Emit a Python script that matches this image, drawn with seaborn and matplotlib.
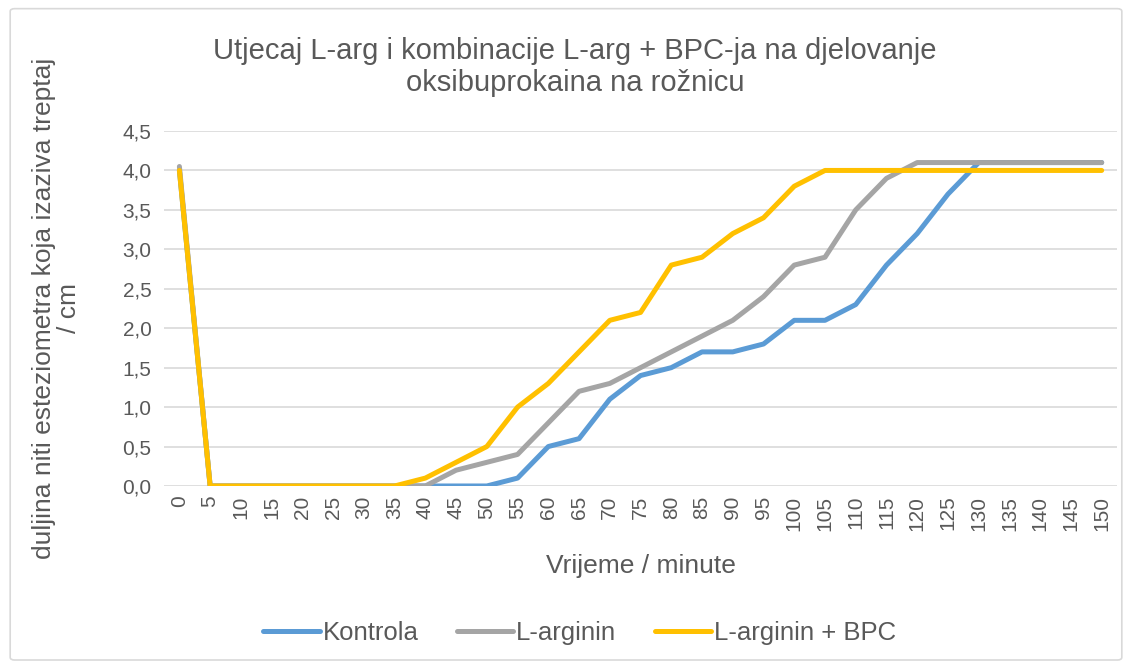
import matplotlib
matplotlib.use("Agg")
import matplotlib.pyplot as plt
import seaborn as sns
import pandas as pd
from matplotlib.patches import FancyBboxPatch
from matplotlib.ticker import FuncFormatter
from matplotlib.lines import Line2D

minutes = list(range(0, 155, 5))
kontrola = [4.0, 0, 0, 0, 0, 0, 0, 0, 0, 0, 0, 0.1, 0.5, 0.6, 1.1, 1.4, 1.5, 1.7, 1.7, 1.8,
            2.1, 2.1, 2.3, 2.8, 3.2, 3.7, 4.1, 4.1, 4.1, 4.1, 4.1]
larginin = [4.05, 0, 0, 0, 0, 0, 0, 0, 0, 0.2, 0.3, 0.4, 0.8, 1.2, 1.3, 1.5, 1.7, 1.9, 2.1, 2.4,
            2.8, 2.9, 3.5, 3.9, 4.1, 4.1, 4.1, 4.1, 4.1, 4.1, 4.1]
larg_bpc = [4.0, 0, 0, 0, 0, 0, 0, 0, 0.1, 0.3, 0.5, 1.0, 1.3, 1.7, 2.1, 2.2, 2.8, 2.9, 3.2, 3.4,
            3.8, 4.0, 4.0, 4.0, 4.0, 4.0, 4.0, 4.0, 4.0, 4.0, 4.0]
series_names = ["Kontrola", "L-arginin", "L-arginin + BPC"]
colors = ["#5B9BD5", "#A5A5A5", "#FFC000"]
y_ticks = [0, 0.5, 1.0, 1.5, 2.0, 2.5, 3.0, 3.5, 4.0, 4.5]

df = pd.DataFrame({
    "minute": minutes * 3,
    "value": kontrola + larginin + larg_bpc,
    "series": [series_names[0]] * len(minutes) + [series_names[1]] * len(minutes) + [series_names[2]] * len(minutes),
})

sns.set_theme(style="white")
plt.rcParams["font.family"] = ["Liberation Sans", "DejaVu Sans"]
txt = "#595959"

fig = plt.figure(figsize=(11.32, 6.66), dpi=100)
ax = fig.add_axes([0.1449, 0.2703, 0.8419, 0.5330])

border = FancyBboxPatch((0.009, 0.009), 0.982, 0.978, boxstyle="round,pad=0,rounding_size=0.004",
                        transform=fig.transFigure, facecolor="white", edgecolor="#D9D9D9", lw=1.2, zorder=-10)
fig.patches.append(border)

for yv in y_ticks:
    ax.axhline(yv, color="#D9D9D9", lw=1.2, zorder=0)

sns.lineplot(data=df, x="minute", y="value", hue="series", hue_order=series_names,
             palette=colors, linewidth=3.6, ax=ax, legend=False, zorder=3)

ax.set_xlim(-2.5, 152.5)
ax.set_ylim(0, 4.5)
ax.set_xticks(minutes)
ax.set_xticklabels([str(m) for m in minutes], rotation=90, color=txt, fontsize=15)
ax.set_yticks(y_ticks)
ax.yaxis.set_major_formatter(FuncFormatter(lambda v, p: f"{v:.1f}".replace(".", ",")))
ax.tick_params(axis="y", colors=txt, labelsize=15, length=0, pad=9)
ax.tick_params(axis="x", colors=txt, length=0, pad=7)
for s in ax.spines.values():
    s.set_visible(False)
ax.set_xlabel("Vrijeme / minute", color=txt, fontsize=19, labelpad=17)
ax.set_ylabel("duljina niti esteziometra koja izaziva treptaj\n/ cm", color=txt, fontsize=19,
              labelpad=30, linespacing=1.05)

fig.text(0.508, 0.899, "Utjecaj L-arg i kombinacije L-arg + BPC-ja na djelovanje\noksibuprokaina na rožnicu",
         ha="center", va="center", fontsize=21, color=txt, linespacing=1.2)

handles = [Line2D([0], [0], color=c, lw=3.6) for c in colors]
fig.legend(handles, series_names, loc="center", bbox_to_anchor=(0.512, 0.05), ncol=3, frameon=False,
           fontsize=18.5, labelcolor=txt, handlelength=2.2, handletextpad=0.1, columnspacing=1.5)

fig.savefig("out.png", dpi=100)
